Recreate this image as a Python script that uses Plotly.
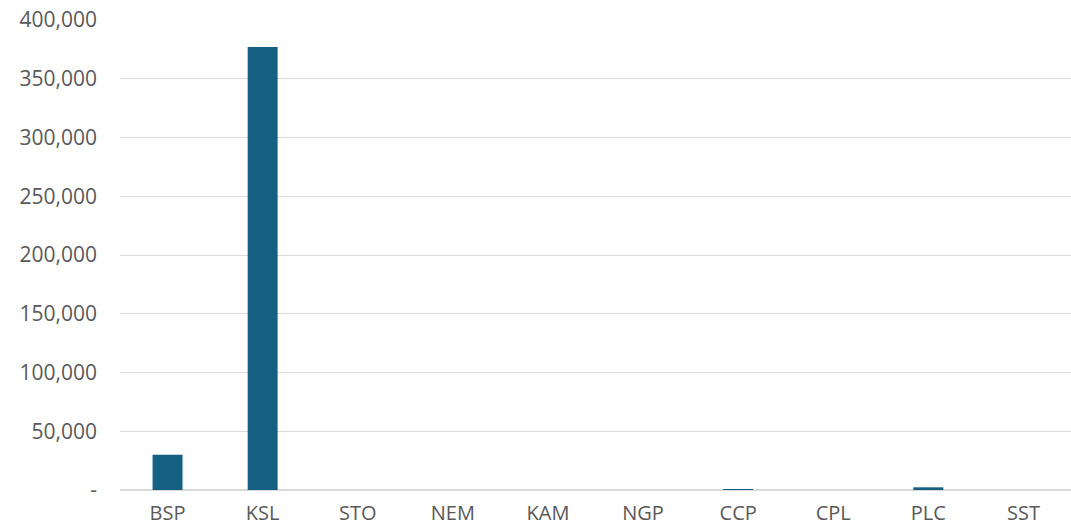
import plotly.graph_objects as go

# Categories and values
categories = ["BSP", "KSL", "STO", "NEM", "KAM", "NGP", "CCP", "CPL", "PLC", "SST"]
values = [30000, 377000, 0, 0, 0, 0, 500, 0, 2300, 0]

tick_vals = [0, 50000, 100000, 150000, 200000, 250000, 300000, 350000, 400000]
tick_text = ["-", "50,000", "100,000", "150,000", "200,000", "250,000", "300,000", "350,000", "400,000"]

fig = go.Figure(
    go.Bar(
        x=categories,
        y=values,
        marker=dict(color="#156082", line=dict(width=0)),
        hoverinfo="x+y",
    )
)

fig.update_layout(
    width=1071,
    height=530,
    margin=dict(l=120, r=0, t=20, b=40),
    paper_bgcolor="white",
    plot_bgcolor="white",
    bargap=0.685,
    showlegend=False,
    font=dict(family="Open Sans, Roboto, sans-serif", color="#595959", size=21),
)

fig.update_xaxes(
    showgrid=False,
    showline=False,
    ticks="",
    automargin=False,
    ticklabelstandoff=9,
    tickfont=dict(size=20, color="#595959"),
)

fig.update_yaxes(
    range=[0, 400000],
    tickvals=tick_vals,
    ticktext=tick_text,
    showgrid=True,
    gridcolor="#d9d9d9",
    gridwidth=1.3,
    zeroline=True,
    zerolinecolor="#d9d9d9",
    zerolinewidth=1.5,
    showline=False,
    ticks="",
    automargin=False,
    ticklabelstandoff=22,
    tickfont=dict(size=21, color="#595959"),
)

fig.write_html("out.html")
